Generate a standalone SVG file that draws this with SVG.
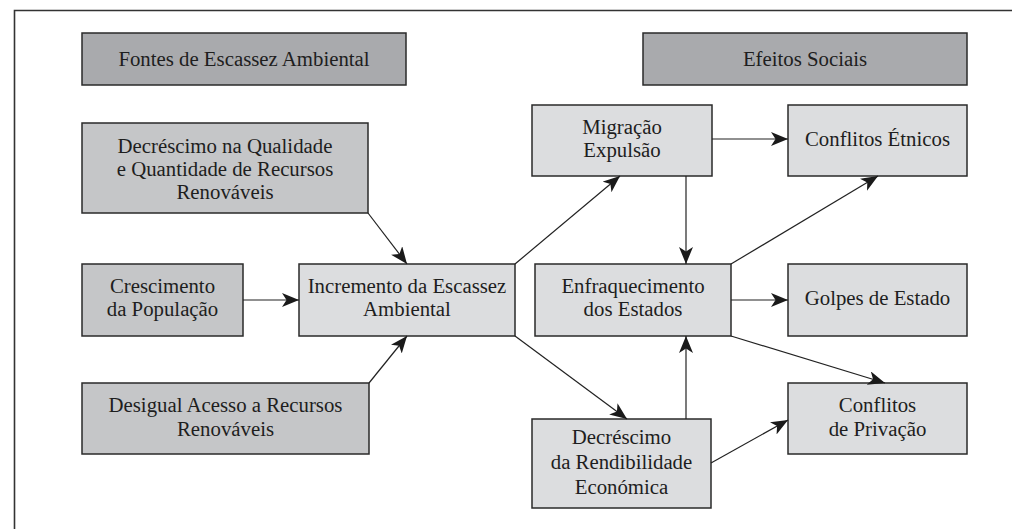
<svg xmlns="http://www.w3.org/2000/svg" width="1012" height="529" viewBox="0 0 1012 529">
  <style>
    .hdr { fill: #a9aaad; stroke: #2a2a2a; stroke-width: 1.5; }
    .src { fill: #c5c6c8; stroke: #2a2a2a; stroke-width: 1.5; }
    .eff { fill: #dcdddf; stroke: #2a2a2a; stroke-width: 1.5; }
    .conn line { stroke: #222; stroke-width: 1.2; marker-end: url(#head); }
  </style>
  <defs>
    <marker id="head" markerUnits="userSpaceOnUse" markerWidth="20" markerHeight="16" refX="17" refY="7" orient="auto">
      <path d="M0,0 L17,7 L0,14 L4.5,7 Z" fill="#1a1a1a"/>
    </marker>
  </defs>

  <rect width="1012" height="529" fill="#ffffff"/>
  <!-- frame: top and left rules only -->
  <path d="M14.5,529 V10.5 H1012" fill="none" stroke="#333" stroke-width="1.6"/>

  <g font-family="Liberation Serif, Times New Roman, DejaVu Serif, serif" font-size="20.8" fill="#1e1e1e" text-anchor="middle">
    <!-- headers -->
    <g id="hdr-fontes">
      <rect class="hdr" x="82" y="33" width="324" height="52"/>
      <text x="244" y="66">Fontes de Escassez Ambiental</text>
    </g>
    <g id="hdr-efeitos">
      <rect class="hdr" x="643" y="33" width="324" height="52"/>
      <text x="805" y="66">Efeitos Sociais</text>
    </g>

    <!-- sources -->
    <g id="n-decrescimo-qualidade">
      <rect class="src" x="82" y="123" width="286" height="90"/>
      <text x="225" y="153">Decréscimo na Qualidade</text>
      <text x="225" y="176">e Quantidade de Recursos</text>
      <text x="225" y="199">Renováveis</text>
    </g>
    <g id="n-crescimento">
      <rect class="src" x="82" y="264" width="161" height="72"/>
      <text x="162.5" y="293">Crescimento</text>
      <text x="162.5" y="316">da População</text>
    </g>
    <g id="n-desigual">
      <rect class="src" x="82" y="383" width="287" height="71"/>
      <text x="225.5" y="412">Desigual Acesso a Recursos</text>
      <text x="225.5" y="436">Renováveis</text>
    </g>

    <!-- intermediate -->
    <g id="n-incremento">
      <rect class="eff" x="299" y="264" width="216" height="72"/>
      <text x="407" y="293">Incremento da Escassez</text>
      <text x="407" y="316">Ambiental</text>
    </g>
    <g id="n-migracao">
      <rect class="eff" x="532" y="105" width="180" height="71"/>
      <text x="622" y="134">Migração</text>
      <text x="622" y="157">Expulsão</text>
    </g>
    <g id="n-enfraquecimento">
      <rect class="eff" x="535" y="264" width="196" height="72"/>
      <text x="633" y="293">Enfraquecimento</text>
      <text x="633" y="316">dos Estados</text>
    </g>
    <g id="n-decrescimo-rendibilidade">
      <rect class="eff" x="532" y="419" width="179" height="89"/>
      <text x="621.5" y="444">Decréscimo</text>
      <text x="621.5" y="469">da Rendibilidade</text>
      <text x="621.5" y="494">Económica</text>
    </g>

    <!-- effects -->
    <g id="n-etnicos">
      <rect class="eff" x="788" y="105" width="179" height="71"/>
      <text x="877.5" y="146">Conflitos Étnicos</text>
    </g>
    <g id="n-golpes">
      <rect class="eff" x="788" y="264" width="179" height="72"/>
      <text x="877.5" y="305">Golpes de Estado</text>
    </g>
    <g id="n-privacao">
      <rect class="eff" x="788" y="383" width="179" height="71"/>
      <text x="877.5" y="412">Conflitos</text>
      <text x="877.5" y="436">de Privação</text>
    </g>
  </g>

  <!-- connectors -->
  <g id="connectors" class="conn">
    <line x1="368" y1="213" x2="407" y2="264"/>
    <line x1="243" y1="300" x2="299" y2="300"/>
    <line x1="369" y1="383" x2="407" y2="336"/>
    <line x1="515" y1="264" x2="620" y2="176"/>
    <line x1="515" y1="336" x2="627" y2="419"/>
    <line x1="712" y1="139" x2="788" y2="139"/>
    <line x1="686" y1="176" x2="686" y2="264"/>
    <line x1="731" y1="264" x2="878" y2="176"/>
    <line x1="731" y1="300" x2="788" y2="300"/>
    <line x1="731" y1="336" x2="885" y2="383"/>
    <line x1="686" y1="419" x2="686" y2="336"/>
    <line x1="711" y1="463" x2="788" y2="420"/>
  </g>
</svg>
